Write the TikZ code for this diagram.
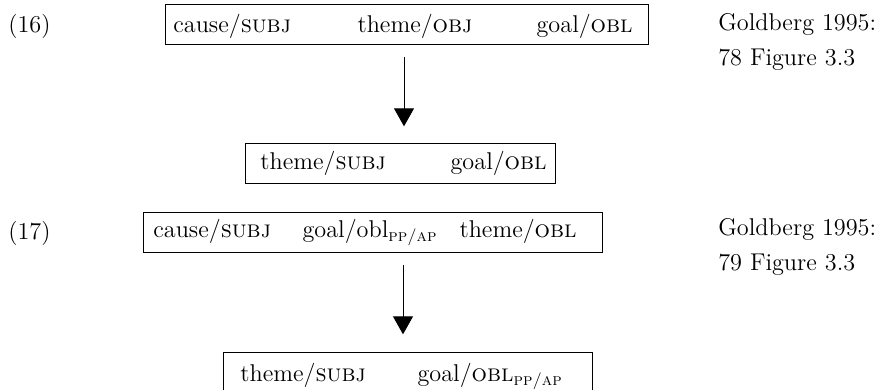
\documentclass[tikz,border=0pt]{standalone}
\usepackage{tikz}
\usetikzlibrary{arrows.meta}

\newcommand{\sub}[1]{\textsubscript{\textsc{#1}}}

\begin{document}
\begin{tikzpicture}[x=0.02cm, y=-0.02cm,
font=\fontsize{13.8}{16}\selectfont,
frame/.style={draw, line width=0.5pt, inner sep=0pt, minimum width=#1, minimum height=0.79cm},
w/.style={anchor=base west, inner sep=0pt},
m/.style={anchor=base, inner sep=0pt},
e/.style={anchor=base east, inner sep=0pt},
arr/.style={-{Triangle[width=4mm,length=3.6mm]}, line width=0.5pt}]
\useasboundingbox (0,0) rectangle (882,389);

% (16)
\node[w] (ex16) at (8,32) {(16)};
\node[frame=9.66cm] (b16a) at (406.5,24.5) {};
\node[w] (c16a) at (173,32) {cause/\textsc{subj}};
\node[m] (t16a) at (415,32) {theme/\textsc{obj}};
\node[e] (g16a) at (633,32) {goal/\textsc{obl}};
\node[frame=6.2cm] (b16b) at (400,163.5) {};
\node[w] (t16b) at (260,169) {theme/\textsc{subj}};
\node[e] (g16b) at (547,169) {goal/\textsc{obl}};
\coordinate (a16) at (404,45);
\draw[arr, shorten <=0.24cm, shorten >=0.34cm] (a16) -- (a16 |- b16b.north);
\node[w] (s16a) at (718,30) {Goldberg 1995:};
\node[w] (s16b) at (718,65) {78 Figure 3.3};

% (17)
\node[w] (ex17) at (8,239) {(17)};
\node[frame=9.18cm] (b17a) at (372.5,232.5) {};
\node[w] (c17a) at (153,237) {cause/\textsc{subj}};
\node[m] (g17a) at (370,237) {goal/obl\sub{pp/ap}};
\node[e] (t17a) at (577,237) {theme/\textsc{obl}};
\node[frame=7.38cm] (b17b) at (407.5,372.5) {};
\node[w] (t17b) at (240,381) {theme/\textsc{subj}};
\node[e] (g17b) at (563,381) {goal/\textsc{obl}\sub{pp/ap}};
\coordinate (a17) at (403,252);
\draw[arr, shorten <=0.26cm, shorten >=0.36cm] (a17) -- (a17 |- b17b.north);
\node[w] (s17a) at (718,235) {Goldberg 1995:};
\node[w] (s17b) at (718,270) {79 Figure 3.3};
\end{tikzpicture}
\end{document}
